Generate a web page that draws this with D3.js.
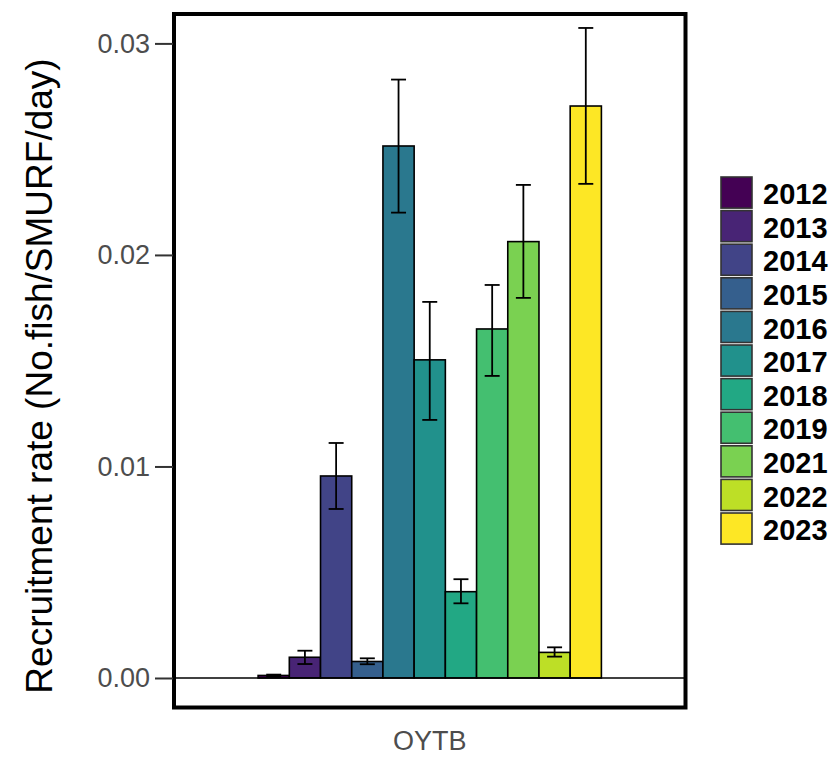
<!DOCTYPE html>
<meta charset="utf-8">
<script src="https://d3js.org/d3.v7.min.js"></script>
<style>
  body { margin: 0; background: #fff; }
  text { font-family: "Liberation Sans", Arial, sans-serif; }
</style>
<div id="chart"></div>
<script>
  // data
  var site = ["OYTB"];
  var years = ["2012", "2013", "2014", "2015", "2016", "2017", "2018", "2019", "2021", "2022", "2023"];
  var rate = [0.00012, 0.00098, 0.00955, 0.00078, 0.02515, 0.01504, 0.00408, 0.0165, 0.02063, 0.00121, 0.02704];
  var errLow = [0.00009, 0.00066, 0.00799, 0.00065, 0.0220, 0.0122, 0.00353, 0.01428, 0.01797, 0.00101, 0.02336];
  var errHigh = [0.00016, 0.00129, 0.01111, 0.00093, 0.02829, 0.01778, 0.00467, 0.01858, 0.02331, 0.00145, 0.03073];
  var yTicks = [0, 0.01, 0.02, 0.03];

  var W = 834, H = 758;
  var panel = { left: 174, right: 685.5, top: 14, bottom: 707.5 };

  var svg = d3.select("#chart").append("svg")
    .attr("width", W)
    .attr("height", H);

  var color = d3.scaleOrdinal()
    .domain(years)
    .range(years.map(function (d, i) { return d3.interpolateViridis(i / (years.length - 1)); }));

  // x: one category, dodged by year
  var x = d3.scaleBand()
    .domain(site)
    .range([panel.left, panel.right])
    .paddingInner(0)
    .paddingOuter(0.245);
  var xYear = d3.scaleBand()
    .domain(years)
    .range([0, x.bandwidth()]);

  var y = d3.scaleLinear()
    .domain([-0.001395, 0.03139])
    .range([panel.bottom, panel.top]);

  var data = years.map(function (yr, i) {
    return { site: site[0], year: yr, rate: rate[i], lo: errLow[i], hi: errHigh[i] };
  });

  // bars
  svg.append("g")
    .selectAll("rect")
    .data(data)
    .enter()
    .append("rect")
    .attr("x", function (d) { return x(d.site) + xYear(d.year); })
    .attr("y", function (d) { return y(d.rate); })
    .attr("width", xYear.bandwidth())
    .attr("height", function (d) { return y(0) - y(d.rate); })
    .attr("fill", function (d) { return color(d.year); })
    .attr("stroke", "#000")
    .attr("stroke-width", 1.6);

  // zero line
  svg.append("line")
    .attr("x1", panel.left).attr("x2", panel.right)
    .attr("y1", y(0)).attr("y2", y(0))
    .attr("stroke", "#000")
    .attr("stroke-width", 1.3);

  // error bars
  var capW = xYear.bandwidth() * 0.48;
  var eb = svg.append("g")
    .selectAll("g")
    .data(data)
    .enter()
    .append("g")
    .attr("stroke", "#000")
    .attr("stroke-width", 1.8);
  eb.append("line")
    .attr("x1", function (d) { return x(d.site) + xYear(d.year) + xYear.bandwidth() / 2; })
    .attr("x2", function (d) { return x(d.site) + xYear(d.year) + xYear.bandwidth() / 2; })
    .attr("y1", function (d) { return y(d.lo); })
    .attr("y2", function (d) { return y(d.hi); });
  ["lo", "hi"].forEach(function (k) {
    eb.append("line")
      .attr("x1", function (d) { return x(d.site) + xYear(d.year) + xYear.bandwidth() / 2 - capW / 2; })
      .attr("x2", function (d) { return x(d.site) + xYear(d.year) + xYear.bandwidth() / 2 + capW / 2; })
      .attr("y1", function (d) { return y(d[k]); })
      .attr("y2", function (d) { return y(d[k]); });
  });

  // panel border
  svg.append("rect")
    .attr("x", panel.left)
    .attr("y", panel.top)
    .attr("width", panel.right - panel.left)
    .attr("height", panel.bottom - panel.top)
    .attr("fill", "none")
    .attr("stroke", "#000")
    .attr("stroke-width", 4);

  // y axis
  var gY = svg.append("g")
    .attr("transform", "translate(" + (panel.left - 1) + ",0)")
    .call(d3.axisLeft(y).tickValues(yTicks).tickFormat(d3.format(".2f")).tickSize(18).tickPadding(5));
  gY.select(".domain").remove();
  gY.selectAll(".tick line").attr("stroke", "#333").attr("stroke-width", 2);
  gY.selectAll(".tick text")
    .attr("fill", "#4d4d4d")
    .style("font-size", "27px")
    .style("font-family", "'Liberation Sans', Arial, sans-serif");

  // x axis label (category)
  svg.append("text")
    .attr("x", x(site[0]) + x.bandwidth() / 2)
    .attr("y", 750)
    .attr("text-anchor", "middle")
    .attr("fill", "#4d4d4d")
    .style("font-size", "27px")
    .text(site[0]);

  // y title
  svg.append("text")
    .attr("transform", "translate(52," + 376 + ") rotate(-90)")
    .attr("text-anchor", "middle")
    .attr("fill", "#000")
    .style("font-size", "37px")
    .text("Recruitment rate (No.fish/SMURF/day)");

  // legend
  var keyH = 33.6;
  var lg = svg.append("g")
    .attr("transform", "translate(720,176)");
  var item = lg.selectAll("g")
    .data(years)
    .enter()
    .append("g")
    .attr("transform", function (d, i) { return "translate(0," + (i * keyH) + ")"; });
  item.append("rect")
    .attr("x", 1).attr("y", 1)
    .attr("width", 31).attr("height", keyH - 2.5)
    .attr("fill", function (d) { return color(d); })
    .attr("stroke", "#333")
    .attr("stroke-width", 1.6);
  item.append("text")
    .attr("x", 43)
    .attr("y", keyH / 2 + 1)
    .attr("dy", "0.36em")
    .attr("fill", "#000")
    .style("font-size", "29px")
    .style("font-weight", "bold")
    .text(function (d) { return d; });
</script>
